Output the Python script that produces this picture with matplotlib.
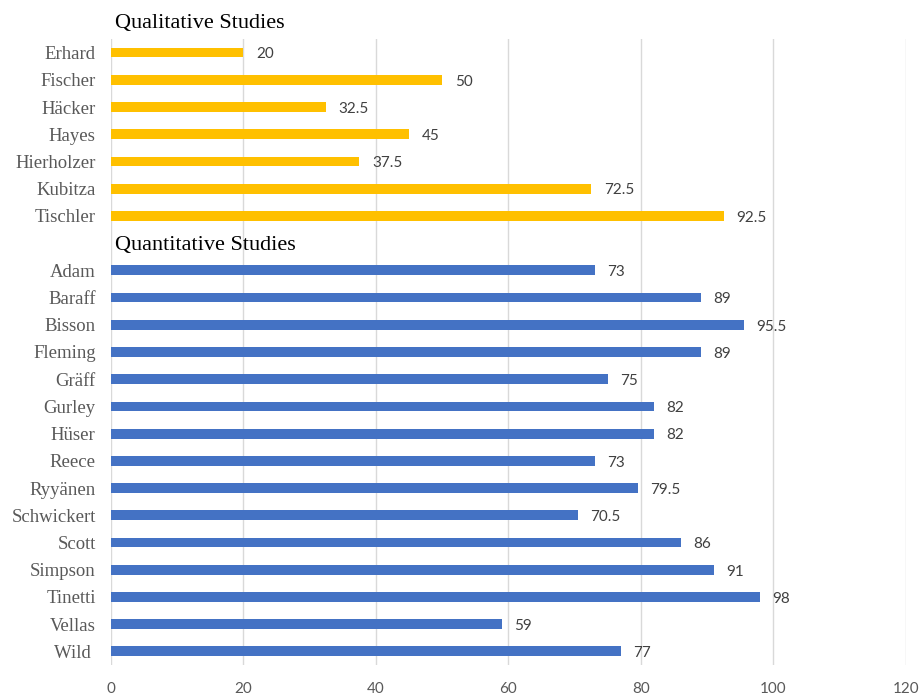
import matplotlib.pyplot as plt
import numpy as np

qual_names = ["Erhard", "Fischer", "Häcker", "Hayes", "Hierholzer", "Kubitza", "Tischler"]
qual_vals = [20, 50, 32.5, 45, 37.5, 72.5, 92.5]
quant_names = ["Adam", "Baraff", "Bisson", "Fleming", "Gräff", "Gurley", "Hüser", "Reece",
               "Ryyänen", "Schwickert", "Scott", "Simpson", "Tinetti", "Vellas", "Wild "]
quant_vals = [73, 89, 95.5, 89, 75, 82, 82, 73, 79.5, 70.5, 86, 91, 98, 59, 77]
xticks = [0, 20, 40, 60, 80, 100, 120]

fig = plt.figure(figsize=(9.21, 6.95), dpi=100)
ax = fig.add_axes([0.1205, 0.0432, 0.8632, 0.9007])

n_q = len(qual_names)
n_t = len(quant_names)
y_qual = np.arange(n_q)
y_quant = np.arange(n_t) + n_q + 1

ax.barh(y_qual, qual_vals, height=0.36, color="#FFC000", zorder=3)
ax.barh(y_quant, quant_vals, height=0.36, color="#4472C4", zorder=3)

for y, v in list(zip(y_qual, qual_vals)) + list(zip(y_quant, quant_vals)):
    ax.annotate(f"{v:g}", xy=(v, y), xytext=(9, -1.3), textcoords="offset points",
                va="center", ha="left", fontsize=11, family="Lato", color="#404040")

ax.set_ylim(n_q + n_t + 1 - 0.5, -0.5)
ax.set_xlim(0, 120)
ax.set_yticks(list(y_qual) + list(y_quant))
ax.set_yticklabels(qual_names + quant_names, family="Liberation Serif", fontsize=13.5, color="#595959")
ax.set_xticks(xticks)
ax.set_xticklabels([str(t) for t in xticks], family="Lato", fontsize=11, color="#595959")
ax.tick_params(axis="both", length=0)
ax.tick_params(axis="y", pad=11)
ax.tick_params(axis="x", pad=12)
ax.grid(axis="x", color="#D9D9D9", linewidth=1, zorder=0)
for s in ax.spines.values():
    s.set_visible(False)

ax.text(0.6, -1.08, "Qualitative Studies", family="Liberation Serif", fontsize=16,
        color="black", va="center", ha="left", clip_on=False)
ax.text(0.6, n_q + 0.1, "Quantitative Studies", family="Liberation Serif", fontsize=16,
        color="black", va="center", ha="left")

fig.savefig("out.png", dpi=100)
